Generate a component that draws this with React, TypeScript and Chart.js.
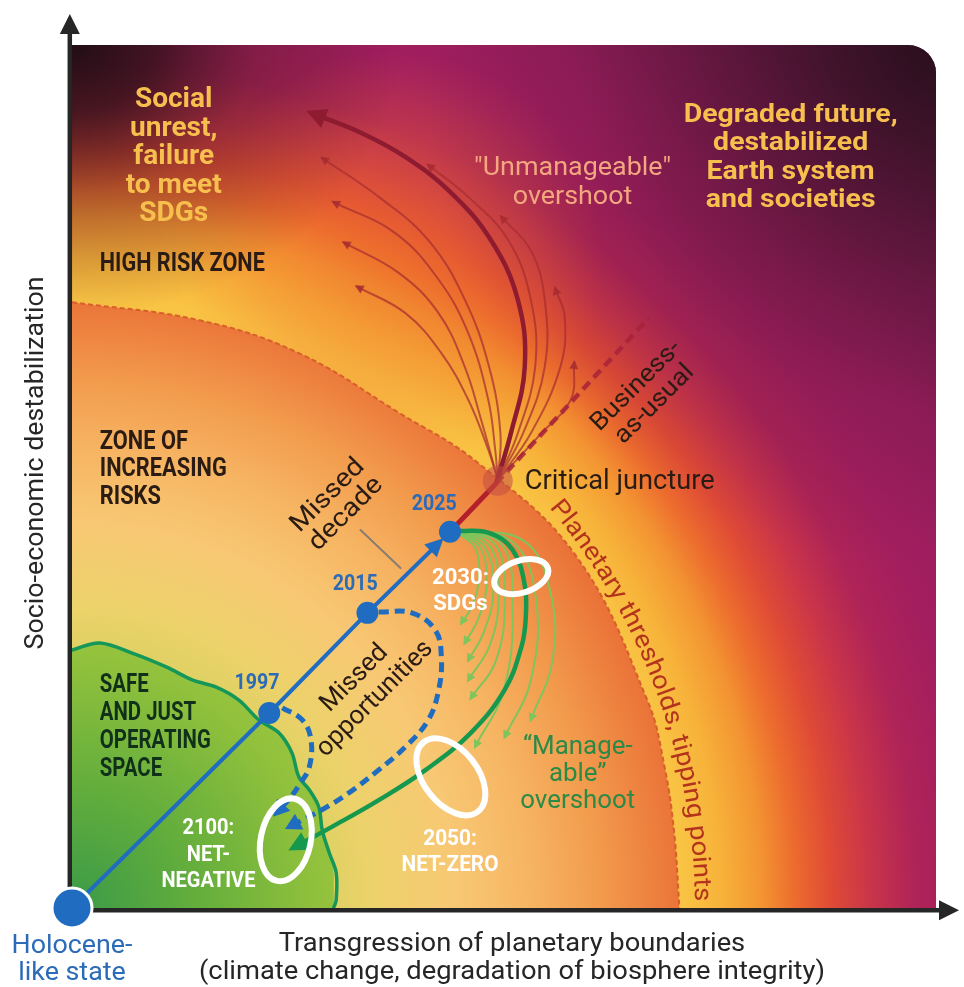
import React, { useEffect, useRef } from "react";
import { Chart, registerables } from "chart.js";

Chart.register(...registerables);

type Pt = [number, number];

// Relative units: x = transgression of planetary boundaries (0–100), y = socio-economic destabilization (0–100)
const thresholdArc: Pt[] = [
  [0, 70.2], [14.7, 68.1], [26.1, 64.3], [37.6, 57.4], [46.7, 51.6],
  [58.0, 40.8], [66.2, 24.1], [68.2, 16.3], [69.3, 8.7], [69.9, 0],
];

const safeSpaceEdge: Pt[] = [
  [0, 29.9], [3.2, 30.7], [7.0, 29.5], [10.9, 27.9], [13.9, 26.4], [16.6, 25.6],
  [19.2, 24.1], [21.5, 21.8], [23.8, 20.3], [25.3, 18.0], [26.1, 15.2], [27.3, 13.7],
  [28.4, 11.7], [28.8, 9.0], [29.6, 6.4], [30.4, 4.1], [30.4, 0.9], [30.1, 0],
];

const milestoneLabels = ["Holocene-like state", "1997", "2015", "2025"];
const milestones: Pt[] = [[0, 0], [22.7, 22.6], [34.0, 34.2], [43.5, 43.6]];
const pastTrajectory: Pt[] = [[0, 0], [22.7, 22.6], [34.0, 34.2], [42.3, 42.4]];
const toJuncture: Pt[] = [[43.5, 43.6], [48.8, 49.2]];
const businessAsUsual: Pt[] = [[48.8, 49.2], [66.4, 68.4]];
const criticalJuncture: Pt[] = [[49.0, 49.5]];
const missedDecadePointer: Pt[] = [[33.2, 43.8], [37.8, 39.4]];

const unmanageableMain: Pt[] = [
  [48.8, 49.2], [50.5, 55.0], [52.1, 62.7], [51.3, 70.5], [48.2, 77.4],
  [43.6, 82.9], [38.4, 87.0], [33.3, 89.8], [27.6, 92.1],
];

const unmanageableFan: Pt[][] = [
  [[49.0, 49.6], [49.3, 55.0], [48.0, 62.7], [45.2, 70.5], [41.0, 77.4], [35.3, 82.4], [28.8, 86.9]],
  [[49.0, 49.6], [48.7, 53.1], [47.9, 58.9], [45.6, 66.6], [42.2, 72.8], [37.2, 78.2], [30.1, 81.8]],
  [[49.0, 49.6], [47.1, 56.5], [45.2, 62.7], [42.2, 68.9], [37.6, 73.6], [31.3, 77.1]],
  [[49.0, 49.6], [47.9, 53.1], [45.6, 58.9], [42.5, 64.3], [38.4, 68.9], [32.8, 72.0]],
  [[49.0, 49.6], [51.3, 55.0], [53.3, 62.7], [52.8, 70.5], [50.2, 77.4], [45.6, 82.4], [41.0, 86.1]],
  [[49.0, 49.6], [51.9, 55.0], [54.4, 62.7], [54.4, 70.5], [52.8, 76.2], [49.4, 80.1]],
  [[49.0, 49.6], [52.8, 55.0], [56.2, 62.7], [56.7, 68.5], [55.6, 71.8]],
  [[49.0, 49.6], [54.0, 55.0], [57.4, 58.9], [57.8, 63.2]],
];

const manageableMain: Pt[] = [
  [44.5, 43.7], [47.9, 43.5], [50.7, 41.5], [52.1, 37.4], [52.2, 33.4], [51.7, 30.2],
  [49.8, 25.3], [45.9, 20.3], [40.7, 16.0], [35.3, 12.5], [29.9, 9.4], [25.5, 7.0],
];

const manageableFan: Pt[][] = [
  [[44.2, 43.6], [46.4, 41.7], [46.8, 38.0], [46.0, 34.9], [44.8, 33.0]],
  [[44.2, 43.6], [47.0, 41.7], [47.7, 37.4], [46.7, 33.4], [45.2, 30.7]],
  [[44.2, 43.6], [47.5, 41.8], [48.5, 36.8], [47.4, 32.0], [45.6, 28.7]],
  [[44.2, 43.6], [48.1, 41.9], [49.1, 36.3], [48.1, 30.5], [45.6, 26.4]],
  [[44.2, 43.6], [48.7, 42.1], [49.8, 35.7], [48.8, 28.7], [45.9, 24.3]],
  [[44.2, 43.6], [49.4, 42.2], [50.7, 35.1], [49.7, 25.3], [46.4, 18.7]],
  [[44.2, 43.6], [50.7, 42.4], [53.4, 35.7], [52.8, 26.4], [49.8, 19.8]],
  [[44.2, 43.6], [51.9, 42.6], [55.0, 36.8], [55.3, 28.7], [52.8, 21.8]],
];

const missed1997: Pt[] = [
  [24.2, 23.2], [26.5, 21.8], [27.5, 19.5], [27.3, 16.3], [26.3, 14.5], [25.2, 12.9], [23.5, 11.0],
];
const missed2015: Pt[] = [
  [35.3, 34.3], [39.1, 34.2], [41.8, 32.2], [42.5, 29.1], [42.2, 25.3], [41.0, 21.8],
  [38.4, 18.7], [35.3, 16.0], [31.8, 13.3], [28.8, 11.4], [26.5, 10.2], [25.0, 9.4],
];

const ringLabels = ["2030: SDGs", "2050: NET-ZERO", "2100: NET-NEGATIVE"];
const ringCenters: Pt[] = [[51.7, 38.4], [43.6, 15.2], [24.6, 7.9]];
const yearLabelAt: Pt[] = [[21.3, 26.0], [32.6, 37.5], [41.7, 46.7]];

// ---- styles ----
const BLUE = "#1f6cc0";
const BLUE_T = "#2b6bb7";
const GOLD = "#f6bf4e";
const DARK = "#2a1c14";
const DKGREEN = "#10301a";
const SALMON = "#f3a67f";
const GREEN_T = "#2b8a46";
const ARC_T = "#b3331d";
const FONT = 'Roboto, "Noto Sans", sans-serif';

const ringStyle = [
  { rx: 28, ry: 16, rot: -18 },
  { rx: 44, ry: 27, rot: 52 },
  { rx: 25, ry: 42, rot: 12 },
];

const outerStops: [number, string][] = [
  [0, "#f9c44a"], [610, "#f9c444"], [650, "#f7b23a"], [690, "#f39432"], [725, "#ec6a2e"],
  [760, "#df4a36"], [800, "#c8344a"], [845, "#ae2358"], [900, "#a31e5f"], [980, "#9a1d5d"],
  [1080, "#861b55"], [1160, "#6c1a48"], [1240, "#4e1738"],
];
const innerStops: [number, string][] = [
  [0, "#a9c944"], [200, "#cdd05c"], [300, "#ecd26a"], [385, "#f8c874"], [460, "#f6b462"],
  [530, "#f29a4c"], [585, "#ed7f3e"], [612, "#ea7238"],
];
const greenStops: [number, string][] = [
  [0, "#3a9a48"], [120, "#62ad3c"], [240, "#8fc03c"], [340, "#aacb44"],
];

const toXY = (a: Pt[]) => a.map(([x, y]) => ({ x, y }));

const radialFill = (stops: [number, string][], R: number) => (c: any) => {
  const chart = c.chart;
  if (!chart || !chart.chartArea) return "rgba(0,0,0,0)";
  const ox = chart.scales.x.getPixelForValue(0);
  const oy = chart.scales.y.getPixelForValue(0);
  const g = chart.ctx.createRadialGradient(ox, oy, 0, ox, oy, R);
  stops.forEach(([d, col]) => g.addColorStop(Math.min(1, d / R), col));
  return g;
};

function curve(data: Pt[], color: string, width: number, extra: any = {}) {
  return {
    data: toXY(data),
    showLine: true,
    borderColor: color,
    backgroundColor: color,
    borderWidth: width,
    pointRadius: 0,
    pointHoverRadius: 0,
    tension: 0.4,
    fill: false,
    borderCapStyle: "round",
    borderJoinStyle: "round",
    ...extra,
  };
}

function glow(ctx: any, x: number, y: number, r: number, stops: [number, string][], sy = 1) {
  ctx.save();
  ctx.translate(x, y);
  ctx.scale(1, sy);
  const g = ctx.createRadialGradient(0, 0, 0, 0, 0, r);
  stops.forEach(([s, c]) => g.addColorStop(s, c));
  ctx.fillStyle = g;
  ctx.fillRect(-r * 1.05, -r * 1.05, r * 2.1, r * 2.1);
  ctx.restore();
}

const backdrop = {
  id: "backdrop",
  beforeDatasetsDraw(chart: any) {
    const { ctx, chartArea: a, scales } = chart;
    const X = (v: number) => scales.x.getPixelForValue(v);
    const Y = (v: number) => scales.y.getPixelForValue(v);
    const ox = X(0), oy = Y(0);
    const boxRight = a.right - 5;
    const rad = 28;
    ctx.save();
    ctx.beginPath();
    ctx.moveTo(a.left, a.bottom);
    ctx.lineTo(a.left, a.top);
    ctx.lineTo(boxRight - rad, a.top);
    ctx.arcTo(boxRight, a.top, boxRight, a.top + rad, rad);
    ctx.lineTo(boxRight, a.bottom);
    ctx.closePath();
    ctx.clip();
    const R = 1240;
    const g = ctx.createRadialGradient(ox, oy, 0, ox, oy, R);
    outerStops.forEach(([d, col]) => g.addColorStop(d / R, col));
    ctx.fillStyle = g;
    ctx.fillRect(a.left, a.top, a.width, a.height);
    // orange glow around the fan of unmanageable paths
    glow(ctx, X(37), Y(75), 210, [[0, "rgba(238,112,44,0.5)"], [0.6, "rgba(238,112,44,0.25)"], [1, "rgba(238,112,44,0)"]]);
    // dark top-left corner
    glow(ctx, a.left, a.top, 330, [[0, "rgba(30,13,18,0.97)"], [0.25, "rgba(40,15,22,0.8)"], [0.55, "rgba(60,20,30,0.35)"], [1, "rgba(60,20,30,0)"]], 0.82);
    // dark top-right corner
    glow(ctx, boxRight, a.top, 520, [[0, "rgba(40,15,28,0.95)"], [0.35, "rgba(50,17,34,0.55)"], [0.7, "rgba(60,20,40,0.15)"], [1, "rgba(60,20,40,0)"]]);
    ctx.restore();

    // axes
    ctx.save();
    ctx.strokeStyle = "#262626";
    ctx.fillStyle = "#262626";
    ctx.lineWidth = 4.5;
    const ax = a.left - 2.2, ay = a.bottom + 2.2;
    ctx.beginPath();
    ctx.moveTo(ax, ay + 2.2);
    ctx.lineTo(ax, a.top - 14);
    ctx.stroke();
    ctx.beginPath();
    ctx.moveTo(ax, a.top - 31);
    ctx.lineTo(ax - 10, a.top - 11);
    ctx.lineTo(ax + 10, a.top - 11);
    ctx.closePath();
    ctx.fill();
    ctx.beginPath();
    ctx.moveTo(ax - 2.2, ay);
    ctx.lineTo(a.right + 2, ay);
    ctx.stroke();
    ctx.beginPath();
    ctx.moveTo(a.right + 18, ay);
    ctx.lineTo(a.right - 2, ay - 10);
    ctx.lineTo(a.right - 2, ay + 10);
    ctx.closePath();
    ctx.fill();
    ctx.restore();
  },
};

type Blk = {
  t: string[]; size: number; bold?: boolean; color: string; align?: CanvasTextAlign;
  lh?: number; rot?: number; fit?: [number, number]; mid?: boolean;
};

function drawBlock(ctx: any, b: Blk, x: number, y: number) {
  ctx.save();
  ctx.translate(x, y);
  if (b.rot) ctx.rotate((b.rot * Math.PI) / 180);
  ctx.font = `${b.bold ? 700 : 400} ${b.size}px ${FONT}`;
  let sx = 1;
  if (b.fit) {
    const w = ctx.measureText(b.t[b.fit[0]]).width;
    if (w > 0) sx = b.fit[1] / w;
  }
  ctx.scale(sx, 1);
  ctx.textAlign = b.align || "center";
  ctx.textBaseline = "middle";
  ctx.fillStyle = b.color;
  const lh = b.lh || b.size;
  const y0 = b.mid ? (-(b.t.length - 1) * lh) / 2 : 0;
  b.t.forEach((s, i) => ctx.fillText(s, 0, y0 + i * lh));
  ctx.restore();
}

const labels: (Blk & { x: number; y: number })[] = [
  { t: ["Social", "unrest,", "failure", "to meet", "SDGs"], x: 11.7, y: 93.55, size: 27, bold: true, color: GOLD, lh: 28.5, fit: [3, 96] },
  { t: ["Degraded future,", "destabilized", "Earth system", "and societies"], x: 82.7, y: 91.85, size: 26, bold: true, color: GOLD, lh: 28.5, fit: [0, 214] },
  { t: ['"Unmanageable"', "overshoot"], x: 57.6, y: 85.7, size: 25, color: SALMON, lh: 29, fit: [0, 197] },
  { t: ["HIGH RISK ZONE"], x: 3.2, y: 74.55, size: 25, bold: true, color: DARK, align: "left", fit: [0, 165] },
  { t: ["ZONE OF", "INCREASING", "RISKS"], x: 3.2, y: 53.95, size: 25, bold: true, color: DARK, align: "left", lh: 27.5, fit: [1, 127] },
  { t: ["SAFE", "AND JUST", "OPERATING", "SPACE"], x: 3.2, y: 25.7, size: 25, bold: true, color: DKGREEN, align: "left", lh: 28, fit: [2, 111] },
  { t: ["Critical juncture"], x: 52.1, y: 49.3, size: 27, color: DARK, align: "left", fit: [0, 190] },
  { t: ["Business-", "as-usual"], x: 66.0, y: 59.4, size: 25, color: DARK, lh: 26, rot: -45, mid: true, fit: [0, 117] },
  { t: ["Missed", "decade"], x: 30.5, y: 46.7, size: 26, color: DARK, lh: 26, rot: -45, mid: true, fit: [0, 93] },
  { t: ["Missed", "opportunities"], x: 33.7, y: 25.4, size: 26, color: DARK, lh: 29, rot: -45, mid: true, fit: [1, 153] },
  { t: ["2030:", "SDGs"], x: 44.7, y: 38.2, size: 22, bold: true, color: "#ffffff", lh: 26, fit: [0, 57] },
  { t: ["2050:", "NET-ZERO"], x: 43.5, y: 7.9, size: 22, bold: true, color: "#ffffff", lh: 26, fit: [1, 97] },
  { t: ["2100:", "NET-", "NEGATIVE"], x: 15.7, y: 9.2, size: 22, bold: true, color: "#ffffff", lh: 26.5, fit: [2, 94] },
  { t: ["\u201CManage-", "able\u201D", "overshoot"], x: 58.2, y: 18.6, size: 25, color: GREEN_T, lh: 27, fit: [2, 115] },
];

const overlay = {
  id: "overlay",
  afterDatasetsDraw(chart: any) {
    const { ctx, chartArea: a, scales } = chart;
    const X = (v: number) => scales.x.getPixelForValue(v);
    const Y = (v: number) => scales.y.getPixelForValue(v);

    // arrowheads at path ends
    chart.data.datasets.forEach((ds: any, i: number) => {
      if (!ds.arrow) return;
      const pts = chart.getDatasetMeta(i).data;
      const n = pts.length;
      if (n < 2) return;
      const p = pts[n - 1], q = pts[n - 2];
      const ang = Math.atan2(p.y - q.y, p.x - q.x);
      const { len, half, color } = ds.arrow;
      const c = Math.cos(ang), s = Math.sin(ang);
      const tx = p.x + c * len * 0.3, ty = p.y + s * len * 0.3;
      const bx = tx - c * len, by = ty - s * len;
      ctx.save();
      ctx.fillStyle = color;
      ctx.beginPath();
      ctx.moveTo(tx, ty);
      ctx.lineTo(bx + s * half, by - c * half);
      ctx.lineTo(bx - s * half, by + c * half);
      ctx.closePath();
      ctx.fill();
      ctx.restore();
    });

    // target rings
    ringCenters.forEach(([cx, cy], i) => {
      const st = ringStyle[i];
      ctx.save();
      ctx.strokeStyle = "#ffffff";
      ctx.lineWidth = 6;
      ctx.beginPath();
      ctx.ellipse(X(cx), Y(cy), st.rx, st.ry, (st.rot * Math.PI) / 180, 0, Math.PI * 2);
      ctx.stroke();
      ctx.restore();
    });

    // annotation texts
    labels.forEach((b) => drawBlock(ctx, b, X(b.x), Y(b.y)));
    milestoneLabels.slice(1).forEach((s, i) => {
      const [lx, ly] = yearLabelAt[i];
      drawBlock(ctx, { t: [s], size: 22, bold: true, color: BLUE_T, fit: [0, 45] }, X(lx), Y(ly));
    });
    const holo = milestoneLabels[0].replace("-", "-\n").split("\n");
    drawBlock(ctx, { t: holo, size: 25, color: BLUE_T, lh: 27, fit: [0, 121] }, X(0), a.bottom + 39);

    // axis titles
    drawBlock(ctx, { t: ["Socio-economic destabilization"], size: 25, color: "#262626", rot: -90, fit: [0, 373] }, a.left - 35, a.top + 418);
    drawBlock(ctx, {
      t: ["Transgression of planetary boundaries", "(climate change, degradation of biosphere integrity)"],
      size: 25, color: "#262626", lh: 28, fit: [1, 626],
    }, 512, a.bottom + 37);

    // curved label along the planetary threshold
    const arcText = "Planetary thresholds, tipping points";
    ctx.save();
    ctx.font = `400 25px ${FONT}`;
    ctx.fillStyle = ARC_T;
    ctx.textAlign = "center";
    ctx.textBaseline = "alphabetic";
    const ox = X(0), oy = Y(0);
    const rB = 623;
    const a0 = (40 * Math.PI) / 180, a1 = (0.6 * Math.PI) / 180;
    const chars = Array.from(arcText);
    const widths = chars.map((ch) => ctx.measureText(ch).width);
    const total = widths.reduce((s, w) => s + w, 0);
    const f = ((a0 - a1) * rB) / total;
    let acc = 0;
    chars.forEach((ch, k) => {
      const w = widths[k] * f;
      const phi = a0 - (acc + w / 2) / rB;
      ctx.save();
      ctx.translate(ox + rB * Math.cos(phi), oy - rB * Math.sin(phi));
      ctx.rotate(Math.PI / 2 - phi);
      ctx.scale(f, 1);
      ctx.fillText(ch, 0, 0);
      ctx.restore();
      acc += w;
    });
    ctx.restore();
  },
};

function buildDatasets(): any[] {
  return [
    curve(thresholdArc, "rgba(214,92,40,0.95)", 2, {
      label: "Planetary thresholds", borderDash: [5, 3], borderCapStyle: "butt",
      fill: "origin", backgroundColor: radialFill(innerStops, 612), order: 100,
    }),
    curve(safeSpaceEdge, "#15975a", 3.5, {
      label: "Safe and just operating space", fill: "origin",
      backgroundColor: radialFill(greenStops, 340), tension: 0.35, order: 90,
    }),
    ...unmanageableFan.map((f) =>
      curve(f, "rgba(168,44,48,0.72)", 2, { order: 80, arrow: { len: 9, half: 4.5, color: "rgba(168,44,48,0.85)" } })
    ),
    curve(unmanageableMain, "#8e1b30", 4.5, { order: 75, arrow: { len: 20, half: 10, color: "#8e1b30" } }),
    ...manageableFan.map((f) =>
      curve(f, "#80c45c", 2, { order: 70, arrow: { len: 9, half: 4.5, color: "#80c45c" } })
    ),
    curve(manageableMain, "#16994f", 4.5, { order: 65, arrow: { len: 20, half: 10, color: "#16994f" } }),
    curve(businessAsUsual, "rgba(168,34,56,0.85)", 4.5, { order: 60, borderDash: [10, 6], borderCapStyle: "butt", tension: 0 }),
    curve(toJuncture, "#b3202c", 5, { order: 55, tension: 0 }),
    curve(missedDecadePointer, "#8c7b70", 2, { order: 54, tension: 0 }),
    curve(missed1997, BLUE, 5, { order: 50, borderDash: [10, 6], borderCapStyle: "butt", arrow: { len: 16, half: 9, color: BLUE } }),
    curve(missed2015, BLUE, 5, { order: 50, borderDash: [10, 6], borderCapStyle: "butt", arrow: { len: 16, half: 9, color: BLUE } }),
    curve(pastTrajectory, BLUE, 4, { order: 45, tension: 0, arrow: { len: 18, half: 9, color: BLUE } }),
    {
      label: "Critical juncture", data: toXY(criticalJuncture), showLine: false, pointRadius: 15,
      pointBackgroundColor: "rgba(196,78,66,0.55)", pointBorderWidth: 0, order: 40, clip: false,
    },
    {
      label: "Milestones", data: toXY(milestones), showLine: false, pointRadius: [20, 11, 11, 11],
      pointBackgroundColor: BLUE, pointBorderColor: "#ffffff", pointBorderWidth: [3, 0, 0, 0],
      order: 30, clip: false,
    },
  ];
}

export default function App() {
  const ref = useRef<HTMLCanvasElement | null>(null);
  useEffect(() => {
    if (!ref.current) return;
    let alive = true;
    const chart = new Chart(ref.current, {
      type: "scatter",
      data: { datasets: buildDatasets() },
      options: {
        animation: false,
        responsive: true,
        maintainAspectRatio: false,
        events: [],
        layout: { padding: { left: 72, top: 45, right: 19, bottom: 79 } },
        scales: {
          x: { type: "linear", min: 0, max: 100, display: false },
          y: { type: "linear", min: 0, max: 100, display: false },
        },
        plugins: { legend: { display: false }, tooltip: { enabled: false } },
      } as any,
      plugins: [backdrop, overlay],
    } as any);
    if ((document as any).fonts && (document as any).fonts.ready) {
      (document as any).fonts.ready.then(() => { if (alive) chart.draw(); });
    }
    return () => { alive = false; chart.destroy(); };
  }, []);
  return (
    <div style={{ position: "absolute", left: 0, top: 0, width: 964, height: 987, background: "#ffffff" }}>
      <canvas ref={ref} />
    </div>
  );
}
